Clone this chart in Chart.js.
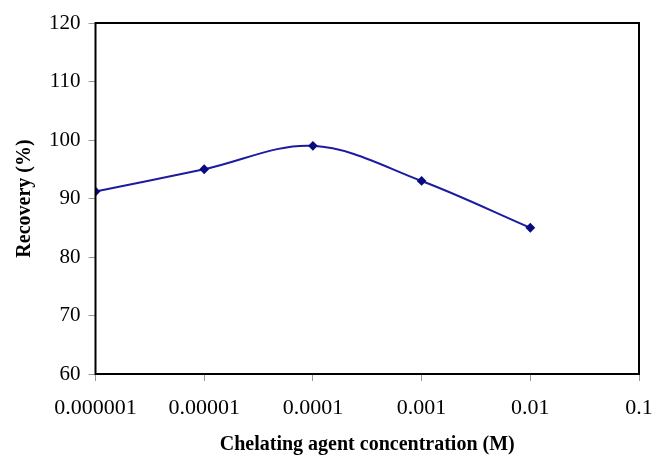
<!DOCTYPE html>
<html>
<head>
<meta charset="utf-8">
<script src="https://cdn.jsdelivr.net/npm/chart.js@4"></script>
<style>
  html, body { margin: 0; padding: 0; background: #fff; }
  #wrap { width: 652px; height: 455px; }
</style>
</head>
<body>
<div id="wrap"><canvas id="recoveryChart"></canvas></div>
<script>
// chelating agent concentration (M) and recovery (%)
const concentration = [0.000001, 0.00001, 0.0001, 0.001, 0.01];
const recovery = [91.2, 95.0, 99.0, 93.0, 85.0];
const xTicks = [0.000001, 0.00001, 0.0001, 0.001, 0.01, 0.1];
const xTickLabels = ["0.000001", "0.00001", "0.0001", "0.001", "0.01", "0.1"];
const yTicks = [60, 70, 80, 90, 100, 110, 120];

// black frame round the plot area
const frame = {
  id: "frame",
  afterDraw(chart) {
    const a = chart.chartArea, ctx = chart.ctx;
    ctx.save();
    ctx.strokeStyle = "#000";
    ctx.lineWidth = 2;
    ctx.strokeRect(a.left, a.top, a.right - a.left, a.bottom - a.top);
    ctx.restore();
  }
};

const serif = "'Liberation Serif', 'Times New Roman', serif";

new Chart(document.getElementById("recoveryChart"), {
  type: "line",
  data: {
    datasets: [{
      data: concentration.map((c, i) => ({ x: c, y: recovery[i] })),
      borderColor: "#1c1ca0",
      backgroundColor: "#0a0a80",
      pointBorderColor: "#0a0a80",
      borderWidth: 2,
      tension: 0.35,
      pointStyle: "rectRot",
      pointRadius: 3.5,
      fill: false
    }]
  },
  options: {
    responsive: true,
    maintainAspectRatio: false,
    animation: false,
    layout: { padding: { top: 23, right: 0, left: 9, bottom: 0 } },
    plugins: { legend: { display: false }, tooltip: { enabled: false } },
    scales: {
      x: {
        type: "logarithmic",
        min: 0.000001,
        max: 0.1,
        afterBuildTicks: (axis) => { axis.ticks = xTicks.map(v => ({ value: v })); },
        afterFit: (axis) => { axis.paddingRight = 13; },
        ticks: {
          autoSkip: false,
          maxRotation: 0,
          color: "#000",
          font: { family: serif, size: 22, lineHeight: 1 },
          padding: 16,
          callback: (v, i) => xTickLabels[i]
        },
        grid: { drawOnChartArea: false, drawTicks: true, tickLength: 7, color: "#999" },
        border: { display: false },
        title: {
          display: true,
          text: "Chelating agent concentration (M)",
          color: "#000",
          font: { family: serif, size: 20, weight: "bold", lineHeight: 1 },
          padding: { top: 0, bottom: 0 }
        }
      },
      y: {
        min: 60,
        max: 120,
        afterBuildTicks: (axis) => { axis.ticks = yTicks.map(v => ({ value: v })); },
        ticks: {
          color: "#000",
          font: { family: serif, size: 21 },
          padding: 8
        },
        grid: { drawOnChartArea: false, drawTicks: true, tickLength: 7, color: "#999" },
        border: { display: false },
        title: {
          display: true,
          text: "Recovery (%)",
          color: "#000",
          font: { family: serif, size: 20, weight: "bold" },
          padding: { bottom: 4 }
        }
      }
    }
  },
  plugins: [frame]
});
</script>
</body>
</html>
